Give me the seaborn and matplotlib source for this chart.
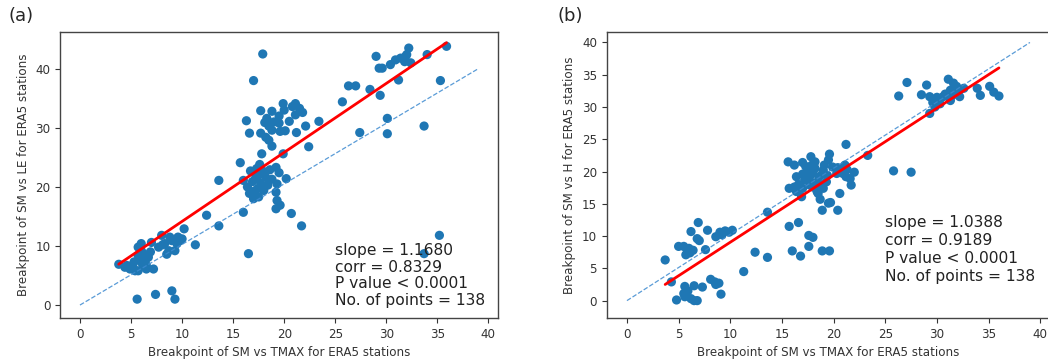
import matplotlib
matplotlib.use("Agg")
import matplotlib.pyplot as plt
import seaborn as sns
import pandas as pd

# ---------------------------------------------------------
# Data (breakpoints, ERA5 stations)
# ---------------------------------------------------------
# (a) SM vs TMAX (x)  against  SM vs LE (y)
a_x = [35.9, 17.9, 17.0, 29.0, 29.3, 29.6, 30.4, 30.9, 31.4, 31.9, 32.2, 32.0, 32.4, 31.8,
       31.2, 34.0, 35.3, 26.3, 27.0, 25.7, 28.4, 29.4, 30.1, 30.1, 27.4, 33.7, 35.2, 33.7,
       23.4, 22.4, 22.1, 21.7,
       19.9, 21.1, 21.5, 21.8, 21.1, 20.5, 19.5, 18.8, 17.7, 18.3, 19.5, 16.3, 16.6, 17.7,
       18.5, 18.8, 18.2, 18.5, 18.8, 19.6, 20.1, 21.2, 17.8, 19.9, 15.7, 17.3, 16.7, 19.2,
       19.5, 17.5, 18.2, 18.8, 16.0, 16.9, 17.7, 18.4, 16.4, 17.4, 18.0, 19.3, 20.2, 16.6,
       17.0, 19.2, 19.3, 19.6, 19.2, 20.7, 16.0, 17.5, 16.5, 13.6, 13.6, 12.4, 11.3, 10.2,
       17.2, 18.0, 17.9, 17.1, 18.6, 20.0, 20.8, 19.0, 18.1, 17.6,
       3.8, 4.4, 4.9, 5.4, 5.7, 6.0, 5.7, 6.2, 6.4, 6.1, 6.7, 7.0, 6.5, 7.2, 5.7, 8.0, 7.7,
       8.3, 8.7, 9.0, 9.5, 10.0, 9.3, 8.5, 5.6, 7.4, 9.0, 9.3, 5.2, 6.5, 8.8, 9.8, 5.0, 6.0,
       6.9, 5.9, 4.6, 5.3, 8.1, 9.6]
a_y = [43.8, 42.5, 38.0, 42.1, 40.1, 40.1, 40.7, 41.5, 41.8, 42.1, 43.5, 42.4, 41.0, 41.2,
       38.1, 42.4, 38.0, 37.1, 37.1, 34.4, 36.5, 35.5, 31.6, 29.0, 29.2, 30.3, 11.8, 8.7,
       31.1, 26.8, 30.3, 13.4,
       34.1, 34.1, 33.3, 32.6, 32.2, 31.1, 32.0, 32.8, 32.9, 31.6, 30.8, 31.2, 29.1, 29.1,
       30.3, 29.6, 28.4, 27.9, 26.9, 29.4, 29.5, 29.2, 25.6, 25.6, 24.1, 23.1, 22.7, 23.3,
       22.4, 22.0, 21.6, 21.3, 21.1, 20.9, 20.6, 20.3, 20.0, 19.7, 19.4, 20.5, 21.4, 18.9,
       18.0, 19.1, 17.7, 16.9, 16.3, 15.5, 15.7, 18.3, 8.7, 21.1, 13.4, 15.2, 10.2, 12.9,
       21.5, 22.6, 20.0, 19.3, 22.9, 33.0, 33.6, 31.0, 30.9, 23.8,
       6.9, 6.4, 6.1, 5.8, 9.8, 10.4, 8.4, 8.7, 7.5, 7.0, 8.1, 10.6, 6.1, 6.1, 5.8, 11.8, 9.8,
       10.4, 9.2, 10.9, 10.4, 11.2, 9.2, 8.6, 1.0, 1.8, 2.4, 1.0, 6.4, 6.7, 11.5, 10.9, 6.6, 9.2,
       9.0, 7.6, 6.7, 7.3, 10.2, 11.5]

# (b) SM vs TMAX (x)  against  SM vs H (y)
b_x = [26.3, 27.1, 28.5, 29.0, 29.3, 29.3, 29.8, 30.1, 30.6, 31.1, 31.3, 31.6, 31.3, 31.9,
       32.2, 32.6, 33.9, 34.2, 35.1, 35.5, 36.0, 30.8, 29.8, 30.3, 31.9, 30.0, 31.5, 32.0, 29.6,
       25.8, 27.5, 23.3, 21.2, 19.6, 19.7, 18.9, 20.4, 20.6, 22.0, 21.7, 21.1, 21.6, 19.9,
       15.6, 16.2, 17.0, 17.8, 18.2, 15.7, 16.4, 17.0, 16.9, 17.7, 17.5, 18.0, 18.6, 19.0,
       18.5, 19.0, 18.3, 19.3, 18.0, 16.4, 18.7, 19.4, 20.3, 20.9, 21.2, 17.2, 19.5,
       17.5, 18.2, 17.8, 18.7, 19.1, 16.6, 17.3, 18.9, 16.2, 17.9, 19.5, 20.4, 21.3, 18.4, 17.0,
       15.7, 16.6, 17.6, 18.0, 16.0, 16.8, 17.6, 18.9, 19.6, 13.6, 12.4, 13.6, 11.3,
       3.7, 4.3, 5.0, 5.5, 5.7, 6.0, 6.4, 6.2, 6.9, 7.0, 7.6, 7.8, 8.6, 9.0, 9.5, 10.2, 9.9,
       5.6, 5.5, 4.8, 5.6, 6.5, 6.5, 6.8, 7.3, 8.1, 8.5, 8.9, 9.1, 8.6,
       5.8, 6.8, 9.2, 6.1, 5.9, 6.2]
b_y = [31.7, 33.8, 31.9, 33.4, 31.6, 29.0, 31.0, 31.3, 31.6, 34.3, 32.6, 33.7, 31.0, 33.2,
       31.6, 32.9, 32.9, 31.8, 33.2, 32.3, 31.7, 32.0, 30.0, 30.5, 32.2, 31.5, 31.8, 32.5, 30.7,
       20.1, 19.9, 22.5, 24.2, 22.7, 15.2, 14.0, 14.0, 16.6, 19.9, 17.9, 21.0, 18.9, 20.7,
       21.5, 21.0, 21.4, 22.3, 21.5, 17.4, 19.2, 17.4, 16.1, 17.9, 20.2, 19.7, 19.2, 20.2,
       16.6, 17.4, 18.3, 18.4, 17.6, 16.9, 15.7, 19.4, 19.7, 19.7, 19.2, 18.7, 15.1,
       19.0, 20.5, 18.4, 18.0, 21.0, 18.0, 20.8, 19.6, 17.6, 21.0, 21.8, 20.6, 20.3, 16.9, 19.6,
       11.5, 12.1, 10.1, 9.8, 7.7, 6.9, 8.4, 7.7, 7.7, 13.7, 7.5, 6.7, 4.5,
       6.3, 2.9, 8.4, 8.4, 7.1, 8.1, 7.8, 10.7, 12.1, 9.3, 7.9, 10.9, 9.9, 10.6, 10.8, 10.9, 10.6,
       2.2, 1.1, 0.1, 0.6, 2.3, 0.0, 0.0, 2.1, 3.3, 2.9, 2.7, 1.0, 2.5,
       8.0, 9.6, 10.2, 7.4, 1.5, 0.3]

# regression fits and 1:1 reference line
slopes = [1.1680, 1.0388]
intercepts = [2.48, -1.34]
ref_x = [0, 39]
ref_y = [0, 40]

stats_text = [
    "slope = 1.1680\ncorr = 0.8329\nP value < 0.0001\nNo. of points = 138",
    "slope = 1.0388\ncorr = 0.9189\nP value < 0.0001\nNo. of points = 138",
]
text_pos = [(25, 0), (25, 3)]
text_spacing = [1.14, 1.26]
panel_labels = ["(a)", "(b)"]
x_label = "Breakpoint of SM vs TMAX for ERA5 stations"
y_labels = ["Breakpoint of SM vs LE for ERA5 stations",
            "Breakpoint of SM vs H for ERA5 stations"]

sns.set_theme(style="ticks")
plt.rcParams['font.family'] = ['DejaVu Sans']

fig = plt.figure(figsize=(10.48, 3.61), dpi=100)
axes = [fig.add_axes([0.0573, 0.119, 0.418, 0.792]),
        fig.add_axes([0.579, 0.119, 0.423, 0.792])]

panels = [pd.DataFrame({'x': a_x, 'y': a_y}), pd.DataFrame({'x': b_x, 'y': b_y})]

for i, ax in enumerate(axes):
    df = panels[i]
    # 1:1 line
    sns.lineplot(x=ref_x, y=ref_y, ax=ax, color='#3d8ad0', lw=0.9, linestyle='--', alpha=0.85)
    sns.scatterplot(data=df, x='x', y='y', ax=ax, color='#1f77b4', s=44, edgecolor='none')
    # fitted line over the data range
    fx = [df['x'].min(), df['x'].max()]
    fy = [slopes[i] * v + intercepts[i] for v in fx]
    sns.lineplot(x=fx, y=fy, ax=ax, color='red', lw=2)

    ax.text(text_pos[i][0], text_pos[i][1], stats_text[i], fontsize=11.2,
            color='#222222', linespacing=text_spacing[i])
    ax.set_xlabel(x_label, fontsize=8.6, color='#333333')
    ax.set_ylabel(y_labels[i], fontsize=8.6, color='#333333')
    ax.tick_params(labelsize=8.6, colors='#333333', length=3.5, width=0.8)
    ax.set_xticks(range(0, 41, 5))
    for sp in ax.spines.values():
        sp.set_color('#444444')
        sp.set_linewidth(1.0)

axes[0].set_xlim(-1.95, 40.95)
axes[0].set_ylim(-2.2, 46.2)
axes[0].set_yticks(range(0, 41, 10))
axes[1].set_xlim(-1.95, 40.95)
axes[1].set_ylim(-2.7, 41.6)
axes[1].set_yticks(range(0, 41, 5))

fig.text(0.008, 0.955, panel_labels[0], fontsize=13, va='center')
fig.text(0.532, 0.955, panel_labels[1], fontsize=13, va='center')

fig.savefig('out.png', dpi=100)
